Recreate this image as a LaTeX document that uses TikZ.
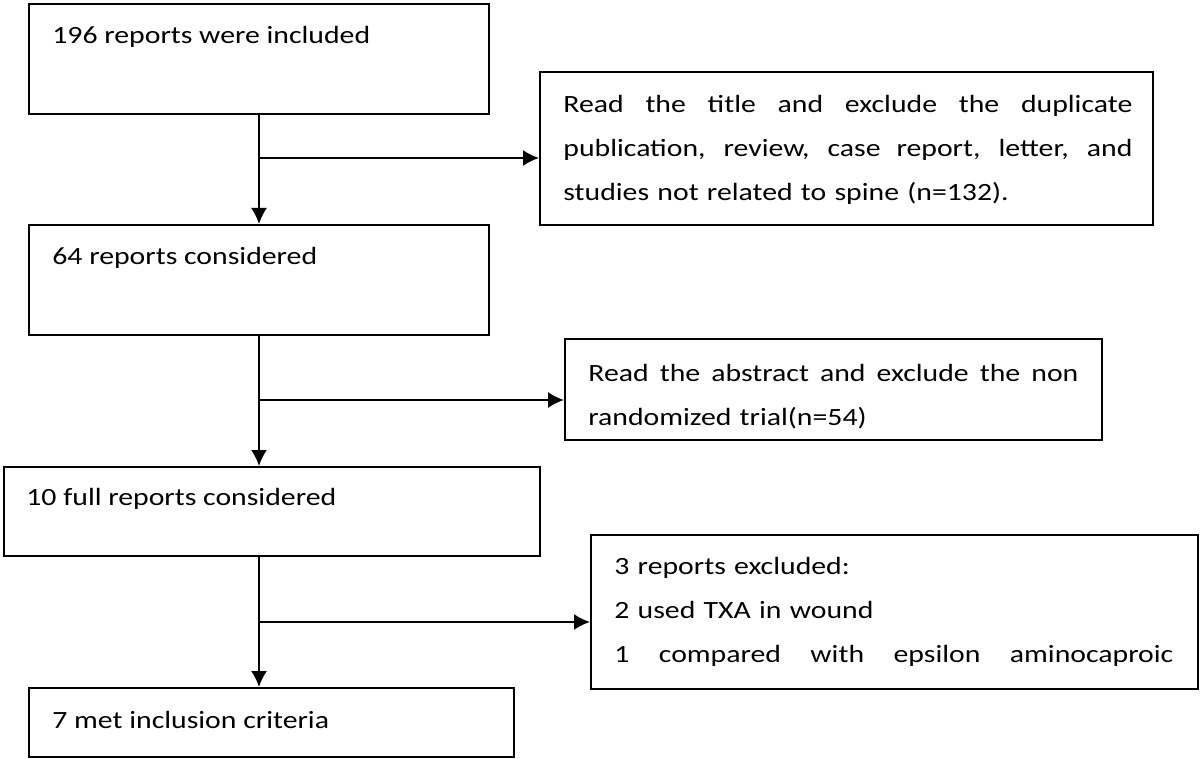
\documentclass[tikz,border=0pt]{standalone}
\usepackage{fontspec}
\setmainfont{Carlito}[FakeStretch=1.2]
\usetikzlibrary{arrows.meta}

\tikzset{
	box/.style={draw, line width=1pt, anchor=north west, inner sep=0pt},
	txt/.style={anchor=base west, inner sep=0pt, align=left, font=\fontsize{12.4}{22}\selectfont},
	flow/.style={line width=1pt, -{Latex[length=8pt,width=8pt]}}
}
\newcommand{\fillline}[2]{\makebox[#1][s]{\spaceskip=0pt\xspaceskip=0pt\relax #2}}

\begin{document}
\begin{tikzpicture}[x=0.5pt, y=-0.5pt]
	\useasboundingbox (0,0) rectangle (1200,759);
	% left column
	\node[box, minimum width=230pt, minimum height=55pt] (b1) at (28,3) {};
	\node[box, minimum width=230pt, minimum height=55pt] (b2) at (28,224) {};
	\node[box, minimum width=268pt, minimum height=44.5pt] (b3) at (3,466) {};
	\node[box, minimum width=242.5pt, minimum height=34.5pt] (b4) at (28,687) {};
	\node[txt] (t1) at ([shift={(12pt,-20.5pt)}]b1.north west) {196 reports were included};
	\node[txt] (t2) at ([shift={(12pt,-20.5pt)}]b2.north west) {64 reports considered};
	\node[txt] (t3) at ([shift={(11.5pt,-19.5pt)}]b3.north west) {10 full reports considered};
	\node[txt] (t4) at ([shift={(12pt,-20.5pt)}]b4.north west) {7 met inclusion criteria};
	% exclusions
	\node[box, minimum width=306.5pt, minimum height=76.5pt] (e1) at (539,71) {};
	\node[box, minimum width=268.5pt, minimum height=50.5pt] (e2) at (564,338) {};
	\node[box, minimum width=303.5pt, minimum height=77pt] (e3) at (590,534) {};
	\node[txt, text width=284.5pt] (s1) at ([shift={(12pt,-21pt)}]e1.north west)
	{\fillline{284.5pt}{Read the title and exclude the duplicate}\\\fillline{284.5pt}{publication, review, case report, letter, and}\\studies not related to spine (n=132).};
	\node[txt, text width=245pt] (s2) at ([shift={(12pt,-21.5pt)}]e2.north west)
	{\fillline{245pt}{Read the abstract and exclude the non}\\randomized trial(n=54)};
	\node[txt, text width=279.5pt] (s3) at ([shift={(12pt,-20pt)}]e3.north west)
	{3 reports excluded:\\2 used TXA in wound\\\fillline{279.5pt}{1 compared with epsilon aminocaproic}};

	\coordinate (j1) at (259,158);
	\coordinate (j2) at (259,400);
	\coordinate (j3) at (259,622);
	\draw[flow] (b1.south -| j1) -- (b2.north -| j1);
	\draw[flow] (j1) -- (j1 -| e1.west);
	\draw[flow] (b2.south -| j2) -- (b3.north -| j2);
	\draw[flow] (j2) -- (j2 -| e2.west);
	\draw[flow] (b3.south -| j3) -- (b4.north -| j3);
	\draw[flow] (j3) -- (j3 -| e3.west);
\end{tikzpicture}
\end{document}
